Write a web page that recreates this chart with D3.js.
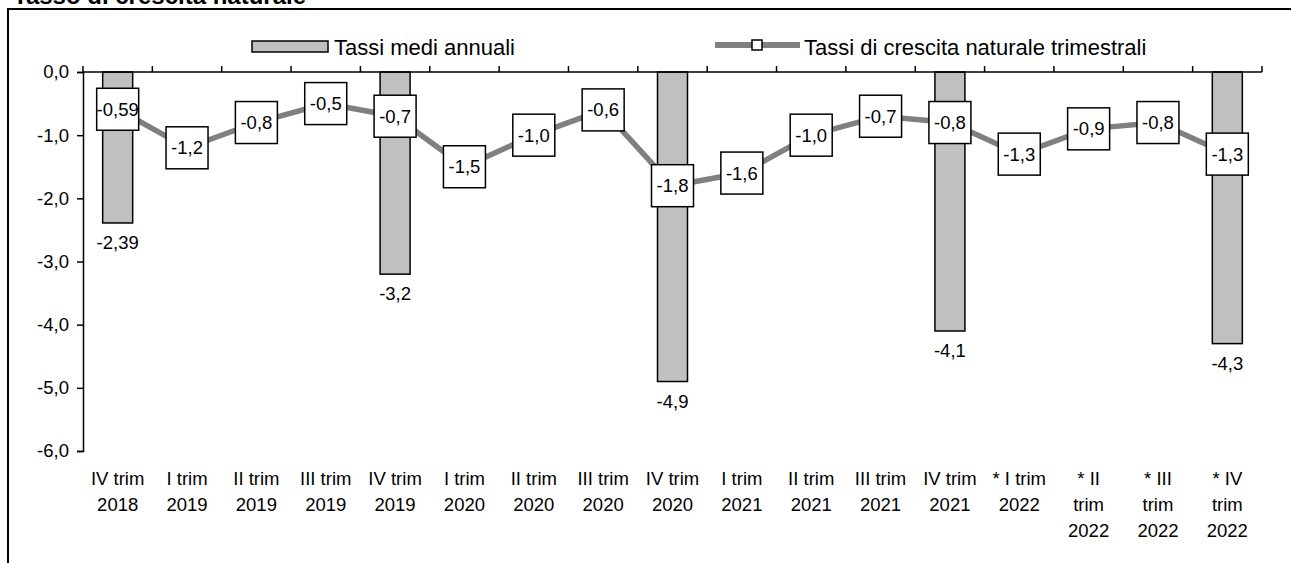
<!DOCTYPE html>
<html>
<head>
<meta charset="UTF-8" />
<title>Tasso di crescita naturale</title>
<script src="https://d3js.org/d3.v7.min.js"></script>
<style>
body { margin: 0; background: #fff; }
text { font-family: Arial, "Liberation Sans", sans-serif; fill: #000; }
</style>
</head>
<body>
<div id="chart"></div>
<script>
// data
var categories = ['IV trim\n2018', 'I trim\n2019', 'II trim\n2019', 'III trim\n2019', 'IV trim\n2019',
    'I trim\n2020', 'II trim\n2020', 'III trim\n2020', 'IV trim\n2020', 'I trim\n2021',
    'II trim\n2021', 'III trim\n2021', 'IV trim\n2021', '* I trim\n2022', '* II\ntrim\n2022',
    '* III\ntrim\n2022', '* IV\ntrim\n2022'];
var annualValues = [-2.39, null, null, null, -3.2, null, null, null, -4.9, null, null, null, -4.1, null, null, null, -4.3];
var annualLabels = ['-2,39', null, null, null, '-3,2', null, null, null, '-4,9', null, null, null, '-4,1', null, null, null, '-4,3'];
var quarterValues = [-0.59, -1.2, -0.8, -0.5, -0.7, -1.5, -1.0, -0.6, -1.8, -1.6, -1.0, -0.7, -0.8, -1.3, -0.9, -0.8, -1.3];
var quarterLabels = ['-0,59', '-1,2', '-0,8', '-0,5', '-0,7', '-1,5', '-1,0', '-0,6', '-1,8', '-1,6', '-1,0', '-0,7', '-0,8', '-1,3', '-0,9', '-0,8', '-1,3'];
var yTicks = [0, -1, -2, -3, -4, -5, -6];
var yTickLabels = ['0,0', '-1,0', '-2,0', '-3,0', '-4,0', '-5,0', '-6,0'];
var seriesNames = ['Tassi medi annuali', 'Tassi di crescita naturale trimestrali'];

var width = 1291, height = 563;
var fs = '18.5px';
var svg = d3.select('#chart').append('svg')
    .attr('width', width)
    .attr('height', height);

// frame + title (cut off at the top, like the source)
svg.append('path')
    .attr('d', 'M8,' + height + 'V9H' + width)
    .attr('fill', 'none')
    .attr('stroke', '#000')
    .attr('stroke-width', 2);
svg.append('text')
    .attr('x', 13).attr('y', 4)
    .style('font-size', '24px')
    .style('font-weight', 'bold')
    .text('Tasso di crescita naturale');

var x = d3.scaleBand().domain(d3.range(categories.length)).range([83, 1262]).padding(0);
var y = d3.scaleLinear().domain([-6, 0]).range([451, 72]);
var cx = function(i) { return x(i) + x.bandwidth() / 2; };

// y axis
var yAxis = svg.append('g')
    .attr('transform', 'translate(83,0)')
    .call(d3.axisLeft(y).tickValues(yTicks).tickSize(6).tickPadding(8)
        .tickFormat(function(d, i) { return yTickLabels[i]; }));
yAxis.select('.domain').attr('stroke', '#000').attr('stroke-width', 1.5);
yAxis.selectAll('.tick line').attr('stroke', '#000').attr('stroke-width', 1.5);
yAxis.selectAll('text').style('font-size', fs).attr('font-family', null);

// bars
var barData = annualValues.map(function(v, i) { return {v: v, i: i}; })
    .filter(function(d) { return d.v !== null; });
svg.selectAll('rect.bar')
    .data(barData)
    .enter().append('rect')
    .attr('class', 'bar')
    .attr('x', function(d) { return cx(d.i) - 15; })
    .attr('width', 30)
    .attr('y', y(0))
    .attr('height', function(d) { return y(d.v) - y(0); })
    .attr('fill', '#c0c0c0')
    .attr('stroke', '#000')
    .attr('stroke-width', 1.5);

svg.selectAll('text.barlabel')
    .data(barData)
    .enter().append('text')
    .attr('class', 'barlabel')
    .attr('x', function(d) { return cx(d.i); })
    .attr('y', function(d) { return y(d.v) + 26; })
    .attr('text-anchor', 'middle')
    .style('font-size', fs)
    .text(function(d) { return annualLabels[d.i]; });

// x axis along zero, ticks upward
var xAxis = svg.append('g');
xAxis.append('line')
    .attr('x1', 83).attr('x2', 1262)
    .attr('y1', y(0)).attr('y2', y(0))
    .attr('stroke', '#000').attr('stroke-width', 1.5);
xAxis.selectAll('line.tick')
    .data(d3.range(categories.length + 1))
    .enter().append('line')
    .attr('class', 'tick')
    .attr('x1', function(i) { return i < categories.length ? x(i) : x.range()[1]; })
    .attr('x2', function(i) { return i < categories.length ? x(i) : x.range()[1]; })
    .attr('y1', y(0)).attr('y2', y(0) - 6)
    .attr('stroke', '#000').attr('stroke-width', 1.5);

// category labels under the plot
svg.selectAll('text.cat')
    .data(categories)
    .enter().append('text')
    .attr('class', 'cat')
    .attr('text-anchor', 'middle')
    .style('font-size', fs)
    .each(function(d, i) {
        var t = d3.select(this);
        d.split('\n').forEach(function(line, k) {
            t.append('tspan')
                .attr('x', cx(i))
                .attr('y', 485 + k * 26)
                .text(line);
        });
    });

// quarterly line
var line = d3.line()
    .x(function(d, i) { return cx(i); })
    .y(function(d) { return y(d); });
svg.append('path')
    .datum(quarterValues)
    .attr('d', line)
    .attr('fill', 'none')
    .attr('stroke', '#808080')
    .attr('stroke-width', 5.5);

var labels = svg.selectAll('g.qlabel')
    .data(quarterValues)
    .enter().append('g')
    .attr('class', 'qlabel')
    .attr('transform', function(d, i) { return 'translate(' + cx(i) + ',' + y(d) + ')'; });
labels.append('rect')
    .attr('x', -21).attr('y', -21)
    .attr('width', 42).attr('height', 42)
    .attr('fill', '#fff')
    .attr('stroke', '#000')
    .attr('stroke-width', 1.5);
labels.append('text')
    .attr('text-anchor', 'middle')
    .attr('dy', '0.35em')
    .style('font-size', fs)
    .text(function(d, i) { return quarterLabels[i]; });

// legend
var legend = svg.append('g');
legend.append('rect')
    .attr('x', 252).attr('y', 41)
    .attr('width', 76).attr('height', 11)
    .attr('fill', '#c0c0c0')
    .attr('stroke', '#000')
    .attr('stroke-width', 1.5);
legend.append('text')
    .attr('x', 334).attr('y', 55)
    .style('font-size', '22px')
    .text(seriesNames[0]);
legend.append('line')
    .attr('x1', 715).attr('x2', 800)
    .attr('y1', 45).attr('y2', 45)
    .attr('stroke', '#808080')
    .attr('stroke-width', 6);
legend.append('rect')
    .attr('x', 752).attr('y', 40)
    .attr('width', 10).attr('height', 10)
    .attr('fill', '#fff')
    .attr('stroke', '#000')
    .attr('stroke-width', 1.5);
legend.append('text')
    .attr('x', 804).attr('y', 55)
    .style('font-size', '22px')
    .text(seriesNames[1]);
</script>
</body>
</html>
